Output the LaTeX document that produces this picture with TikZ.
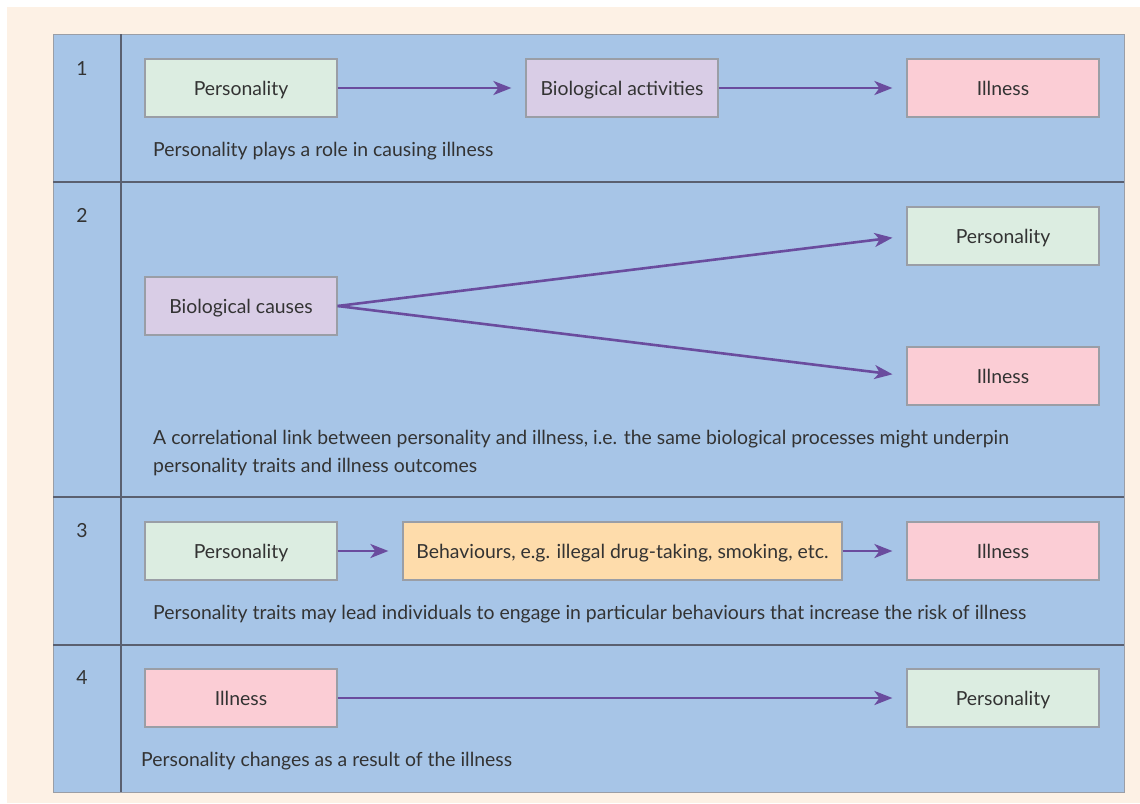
\documentclass[tikz,border=0pt]{standalone}
\usepackage{fontspec}
\setmainfont{Lato}
\usetikzlibrary{arrows.meta}
\definecolor{cream}{HTML}{FDF1E5}
\definecolor{tblue}{HTML}{A7C5E7}
\definecolor{gbox}{HTML}{DCEDE1}
\definecolor{pbox}{HTML}{D9CDE6}
\definecolor{rbox}{HTML}{FBCDD5}
\definecolor{obox}{HTML}{FEDCAB}
\definecolor{arr}{HTML}{6A4C9E}
\definecolor{txt}{HTML}{333333}
\definecolor{bord}{HTML}{9A9EA6}
\definecolor{rulec}{HTML}{5A6070}
\tikzset{
  box/.style={draw=bord, line width=1.2pt, minimum width=192pt, minimum height=58pt, inner sep=0pt, text height=16pt, text depth=2pt, font=\fontsize{19.4}{22}\selectfont, text=txt},
  gb/.style={box, fill=gbox},
  pb/.style={box, fill=pbox},
  rb/.style={box, fill=rbox},
  ob/.style={box, fill=obox},
  con/.style={arr, line width=2.6pt, -{Stealth[length=18pt,width=14pt,inset=5pt]}, shorten >=14pt},
  captext/.style={anchor=base west, text=txt, font=\fontsize{19.4}{28}\selectfont, inner sep=0pt, align=left},
  num/.style={anchor=base, text=txt, font=\fontsize{19.4}{22}\selectfont, inner sep=0pt}
}
\begin{document}
\begin{tikzpicture}[x=1pt,y=-1pt]
\useasboundingbox (0,0) rectangle (1140,803);
\fill[white] (0,0) rectangle (1140,803);
\fill[cream] (7,7) rectangle (1140,803);
\fill[tblue] (53,34) rectangle (1124,792);
\draw[bord, line width=1pt] (53,34) rectangle (1124,792);
\draw[rulec, line width=1.5pt] (121,34) -- (121,792);
\draw[rulec, line width=1.3pt] (53,182) -- (1124,182);
\draw[rulec, line width=1.3pt] (53,497) -- (1124,497);
\draw[rulec, line width=1.3pt] (53,645) -- (1124,645);
% numbers
\node[num] (n1) at (82,75) {1};
\node[num] (n2) at (82,222) {2};
\node[num] (n3) at (82,537) {3};
\node[num] (n4) at (82,684) {4};
% row 1
\node[gb] (p1) at (241,88) {Personality};
\node[pb] (b1) at (622,88) {Biological activities};
\node[rb] (i1) at (1003,88) {Illness};
\draw[con] (p1) -- (b1);
\draw[con] (b1) -- (i1);
\node[captext] (c1) at (153,156) {Personality plays a role in causing illness};
% row 2
\node[pb] (b2) at (241,306) {Biological causes};
\node[gb] (p2) at (1003,236) {Personality};
\node[rb] (i2) at (1003,376) {Illness};
\draw[con] (b2.east) -- (p2.west);
\draw[con] (b2.east) -- (i2.west);
\node[captext] (c2) at (153,472) {A correlational link between personality and illness, i.e. the same biological processes might underpin\\personality traits and illness outcomes};
% row 3
\node[gb] (p3) at (241,551) {Personality};
\node[ob, minimum width=439pt] (h3) at (622.5,551) {Behaviours, e.g. illegal drug-taking, smoking, etc.};
\node[rb] (i3) at (1003,551) {Illness};
\draw[con] (p3) -- (h3);
\draw[con] (h3) -- (i3);
\node[captext] (c3) at (153,619) {Personality traits may lead individuals to engage in particular behaviours that increase the risk of illness};
% row 4
\node[rb] (i4) at (241,698) {Illness};
\node[gb] (p4) at (1003,698) {Personality};
\draw[con] (i4) -- (p4);
\node[captext] (c4) at (141,766) {Personality changes as a result of the illness};
\end{tikzpicture}
\end{document}
